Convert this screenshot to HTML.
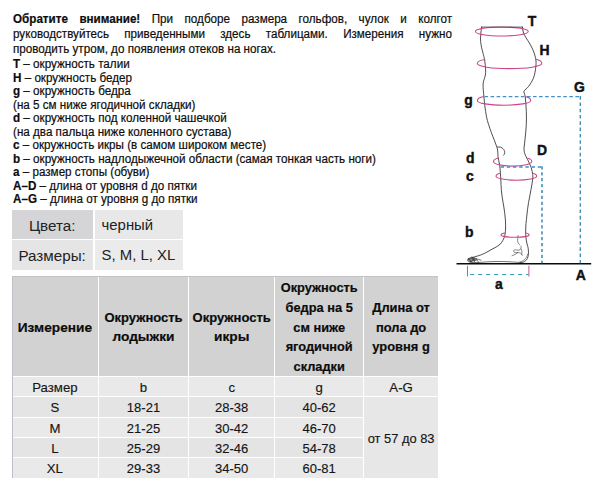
<!DOCTYPE html>
<html><head><meta charset="utf-8">
<style>
html,body{margin:0;padding:0;background:#fff;}
body{width:606px;height:489px;position:relative;overflow:hidden;font-family:"Liberation Sans",sans-serif;color:#111;}
.p{position:absolute;left:13px;top:11.7px;width:452.1px;font-size:12px;line-height:15.2px;text-align:justify;transform:scaleX(0.971);transform-origin:0 0;}
.p,.l{-webkit-text-stroke:0.2px #111;color:#0c0c0c}
.j{text-align:justify;text-align-last:justify;}
.l{position:absolute;left:13px;top:58.1px;font-size:12px;line-height:13.52px;white-space:nowrap;transform:scaleX(0.971);transform-origin:0 0;}
.kv span{position:relative;top:0.9px}
.kv{position:absolute;font-size:15.2px;color:#222;white-space:nowrap;line-height:29px;height:29px;}
.c{position:absolute;display:flex;align-items:center;justify-content:center;text-align:center;white-space:nowrap;color:#141414;}
.c span{position:relative;display:block}
.c.h{font-weight:bold;font-size:13.2px;line-height:19.56px;color:#0c0c0c;-webkit-text-stroke:0.2px #0c0c0c;}
.c.h i{font-style:normal;font-size:13.7px;}
.c.d{font-size:13.2px;line-height:19px;-webkit-text-stroke:0.15px #1a1a1a;}
svg{position:absolute;left:0;top:0;}
</style></head><body>
<div class="p"><div class="j"><b>Обратите внимание!</b> При подборе размера гольфов, чулок и колгот</div><div class="j">руководствуйтесь приведенными здесь таблицами. Измерения нужно</div><div>проводить утром, до появления отеков на ногах.</div></div>
<div class="l"><b>T</b> – окружность талии<br><b>H</b> – окружность бедер<br><b>g</b> – окружность бедра<br>(на 5 см ниже ягодичной складки)<br><b>d</b> – окружность под коленной чашечкой<br>(на два пальца ниже коленного сустава)<br><b>c</b> – окружность икры (в самом широком месте)<br><b>b</b> – окружность надлодыжечной области (самая тонкая часть ноги)<br><b>a</b> – размер стопы (обуви)<br><b>A–D</b> – длина от уровня d до пятки<br><b>A–G</b> – длина от уровня g до пятки</div>
<div class="kv" style="left:12px;top:210.2px;width:81.3px;background:#d5d5d8;text-align:center"><span style="left:-0.5px">Цвета:</span></div>
<div class="kv" style="left:94.9px;top:210.2px;width:81.1px;padding-left:6.7px;font-size:14.9px;background:#e8e8e8"><span>черный</span></div>
<div class="kv" style="left:12px;top:240.2px;width:81.3px;background:#e5e5e5;text-align:center;height:29.4px"><span style="left:-0.5px">Размеры:</span></div>
<div class="kv" style="left:94.9px;top:240.2px;width:81.1px;padding-left:6.7px;font-size:14.9px;background:#ebebeb;height:29.4px"><span>S, M, L, XL</span></div>
<div class="c h" style="left:12.0px;top:276.1px;width:85.8px;height:99.6px;background:#d2d2d2"><span style="top:1.4px;font-size:13.7px;">Измерение</span></div>
<div class="c h" style="left:98.8px;top:276.1px;width:89.4px;height:99.6px;background:#d2d2d2"><span style="top:1.4px;font-size:13.0px;">Окружность<br><i>лодыжки</i></span></div>
<div class="c h" style="left:189.2px;top:276.1px;width:85.0px;height:99.6px;background:#d2d2d2"><span style="top:1.4px;font-size:13.0px;">Окружность<br><i>икры</i></span></div>
<div class="c h" style="left:275.2px;top:276.1px;width:88.0px;height:99.6px;background:#d2d2d2"><span style="top:1.4px;font-size:12.8px;">Окружность<br>бедра на 5<br>см ниже<br>ягодичной<br>складки</span></div>
<div class="c h" style="left:364.2px;top:276.1px;width:73.8px;height:99.6px;background:#d2d2d2"><span style="top:1.4px;font-size:12.9px;">Длина от<br>пола до<br>уровня g</span></div>
<div class="c d" style="left:12.0px;top:376.8px;width:85.8px;height:19.2px;background:#e9e9e9"><span style="top:0.7px;font-size:13.2px;">Размер</span></div>
<div class="c d" style="left:98.8px;top:376.8px;width:89.4px;height:19.2px;background:#e9e9e9"><span style="top:0.7px;font-size:13.2px;">b</span></div>
<div class="c d" style="left:189.2px;top:376.8px;width:85.0px;height:19.2px;background:#e9e9e9"><span style="top:0.7px;font-size:13.2px;">c</span></div>
<div class="c d" style="left:275.2px;top:376.8px;width:88.0px;height:19.2px;background:#e9e9e9"><span style="top:0.7px;font-size:13.2px;">g</span></div>
<div class="c d" style="left:364.2px;top:376.8px;width:73.8px;height:19.2px;background:#e9e9e9"><span style="top:0.7px;font-size:13.2px;">A-G</span></div>
<div class="c d" style="left:12.0px;top:397.0px;width:85.8px;height:20.0px;background:#e4e4e4"><span style="top:0.3px;font-size:13.2px;">S</span></div>
<div class="c d" style="left:98.8px;top:397.0px;width:89.4px;height:20.0px;background:#e4e4e4"><span style="top:0.3px;font-size:13.0px;">18-21</span></div>
<div class="c d" style="left:189.2px;top:397.0px;width:85.0px;height:20.0px;background:#e4e4e4"><span style="top:0.3px;font-size:13.0px;">28-38</span></div>
<div class="c d" style="left:275.2px;top:397.0px;width:88.0px;height:20.0px;background:#e4e4e4"><span style="top:0.3px;font-size:13.0px;">40-62</span></div>
<div class="c d" style="left:12.0px;top:418.0px;width:85.8px;height:18.9px;background:#e9e9e9"><span style="top:0.9px;font-size:13.2px;">M</span></div>
<div class="c d" style="left:98.8px;top:418.0px;width:89.4px;height:18.9px;background:#e9e9e9"><span style="top:0.9px;font-size:13.0px;">21-25</span></div>
<div class="c d" style="left:189.2px;top:418.0px;width:85.0px;height:18.9px;background:#e9e9e9"><span style="top:0.9px;font-size:13.0px;">30-42</span></div>
<div class="c d" style="left:275.2px;top:418.0px;width:88.0px;height:18.9px;background:#e9e9e9"><span style="top:0.9px;font-size:13.0px;">46-70</span></div>
<div class="c d" style="left:12.0px;top:437.9px;width:85.8px;height:18.9px;background:#e4e4e4"><span style="top:0.9px;font-size:13.2px;">L</span></div>
<div class="c d" style="left:98.8px;top:437.9px;width:89.4px;height:18.9px;background:#e4e4e4"><span style="top:0.9px;font-size:13.0px;">25-29</span></div>
<div class="c d" style="left:189.2px;top:437.9px;width:85.0px;height:18.9px;background:#e4e4e4"><span style="top:0.9px;font-size:13.0px;">32-46</span></div>
<div class="c d" style="left:275.2px;top:437.9px;width:88.0px;height:18.9px;background:#e4e4e4"><span style="top:0.9px;font-size:13.0px;">54-78</span></div>
<div class="c d" style="left:12.0px;top:457.8px;width:85.8px;height:20.1px;background:#e9e9e9"><span style="top:0.8px;font-size:13.2px;">XL</span></div>
<div class="c d" style="left:98.8px;top:457.8px;width:89.4px;height:20.1px;background:#e9e9e9"><span style="top:0.8px;font-size:13.0px;">29-33</span></div>
<div class="c d" style="left:189.2px;top:457.8px;width:85.0px;height:20.1px;background:#e9e9e9"><span style="top:0.8px;font-size:13.0px;">34-50</span></div>
<div class="c d" style="left:275.2px;top:457.8px;width:88.0px;height:20.1px;background:#e9e9e9"><span style="top:0.8px;font-size:13.0px;">60-81</span></div>
<div class="c d" style="left:364.2px;top:397.0px;width:73.8px;height:80.9px;background:#e7e7e7"><span style="top:1.1px;font-size:12.9px;">от 57 до 83</span></div>
<div style="position:absolute;left:12px;top:276.1px;width:0.7px;height:201.8px;background:#c0c0c8"></div><div style="position:absolute;left:12px;top:276.1px;width:426px;height:0.6px;background:#c2c2c8"></div>
<svg width="606" height="489" viewBox="0 0 606 489" font-family="'Liberation Sans',sans-serif" font-weight="bold" font-size="15.5px" fill="#111" stroke="#111" stroke-width="0" >
<g fill="none" stroke="#3a3a3a" stroke-width="0.9" stroke-linecap="round" stroke-linejoin="round">
<!-- top -->
<!-- left/front outline -->
<path d="M481.5 26.9 C481 32 480.3 37 480.6 41.3 C481.5 50 484 55 484.8 61 C485.5 67 486 72 485.4 75 C484.5 79 483.2 81 483.1 84 C483 89 483.5 92 483.9 96.4 C484.5 104 485.3 110 486.4 116.2 C487.5 122 489.5 127.5 491.4 132.7 C493 137 495.5 143 497.1 147.8 C498 151 497.8 153.5 498 156.5 C498.3 159.5 499.2 162 499.6 164.8 C500 167.5 500.2 170 500.4 173 C500.8 178 501 184 501.3 189.5 C501.8 195.5 502.8 201 503.7 206 C504.5 210.5 505 215 505.4 219.9 C505.8 224 505.6 228 505.4 231.5 C505.3 233 505.2 234 504.8 235.3 C504.4 237 503.8 238.8 502.9 240.4 C502.2 241.7 501.4 242.9 500.4 244 C498.2 246 495.6 247.4 493 248.7 C490.2 250.2 487.5 251.8 484.75 253.25 C482.6 254.3 480.4 255.1 478.2 255.8 C476.2 256.5 473.8 257.1 471.8 257.6 C470.4 257.9 469.2 258.2 468.3 258.8"/>
<!-- back outline -->
<path d="M522.4 26.9 C522.6 29 522.8 31 523.5 33 C524.8 36.5 527.3 39.5 529.3 42.9 C531.8 47 533.9 51.5 535.1 56.1 C536 59.5 536.3 62.5 535.9 66 C535.5 70.5 534.8 74.5 533.4 78.3 C532.2 81.5 530.3 84 528.5 86.5 C527 88.5 524.8 89.8 524 91.1 C523.5 92 524.5 93.5 525.2 96.4 C525.7 101 526.1 106 526.3 111.3 C526.5 116 526.5 120 526.3 124.5 C526.1 129.5 525.5 134.5 525 139.3 C524.8 142.5 524.2 145.5 524 148.3 C523.9 151.5 524.8 154 526 156.5 C527 158.7 528.4 160.8 529.3 163.1 C530.6 165.8 531.7 168.6 532.2 171.4 C532.6 173.6 533 175.7 532.9 178 C532.4 182 531.7 185.7 531 189.5 C530.3 194 529.3 198.3 528.5 202.7 C527.8 207 527.2 212 526.8 216 C526.5 218.5 526.3 221 526 223.2 C525.7 227 525.6 231 525.7 234.8 C525.8 237.7 526.3 240.4 526.8 243 C527.1 244.6 527.5 245.5 527.8 246.5 C528.2 248 528.4 249.5 528.4 251 C528.5 252.5 528.5 253.5 528.4 254.5 C528.2 256 527.9 257.4 527.3 258.6 C526.7 259.8 525.7 260.9 524.5 261.6 C523.4 262.2 522.1 262.5 520.8 262.6"/>
<!-- sole -->
<path d="M520.8 262.5 C517 262.3 513 262 510 261.8 C505 261.5 500 261.4 495 261.5 C491.5 261.6 488 261.8 485 262 C482.5 262.2 480.5 262.4 478 262.5 C475.5 262.6 472.5 262.6 470 262.4" stroke-width="0.7"/>
<!-- toes -->
<path d="M468.3 258.7 C467.6 259.2 467.3 260 467.7 260.8 C468 261.5 468.5 261.8 469 262 M468.3 258.7 L473.5 257.6 L475.5 259.6 L470.5 261.4 M469.2 259.3 L472 262 M471.6 257 C474 258 477 259 481 260.2 M476 258.4 L478.5 262.3" stroke-width="0.7"/>
<path d="M468 259.5 L474 258.2 M468.6 260.6 L475 259 M469.5 261.6 L476.5 260 M472.5 257.6 L474.5 261.8" stroke-width="0.8" stroke="#333"/>
<!-- knee cap -->
<path d="M497.6 147 C499.7 146.8 501.6 147.3 502.9 148.6 C504 149.6 504.7 150.9 504.7 152.3 C504.7 153.5 504.3 154.4 503.6 155.2"/>
<!-- ankle details -->
<path d="M518 235.5 C517.8 238 517.4 240 517.8 242 C518.1 243.3 519 244 519.6 244.6 M521 246 C521.5 248.5 520.5 250 519 250.2 C517.5 250.3 516 249.5 514.5 250 C513.4 250.4 513.2 251.3 514 252 C515.3 253 517.5 252.4 519.5 252.8 C521 253.1 521.8 254.2 522.4 255.3 M512 255.8 C514 255.2 516.2 254 517.8 252.6 M521.2 249 C522.2 251 522.3 253 521.5 254.6" stroke-width="0.6"/>
<!-- heel pad -->
<path d="M527.9 254 C527.2 256.3 525.8 258.6 523.8 260.2 C522.6 261.1 521 261.8 519.6 262.1" stroke-width="0.6"/>
</g>
<!-- ground -->
<path d="M456.5 263.7 L591.2 263.7" stroke="#0a0a0a" stroke-width="1.5" fill="none"/>
<!-- ellipses -->
<g fill="none" stroke="#cb4488" stroke-width="1.05">
<ellipse cx="501.85" cy="31.5" rx="26.4" ry="4.5"/>
<path d="M485.2 59.6 C480.5 60.2 477.3 61.7 477.3 63.6 C477.3 66.4 491.7 68.6 509.5 68.6 C527.3 68.6 541.8 66.4 541.8 63.6 C541.8 61.6 539.5 60 535.8 59.3"/>
<path d="M484 96.6 C480 97.4 477.3 98.8 477.3 100.7 C477.3 103.2 489.3 105.2 504 105.2 C518.7 105.2 530.7 103.2 530.7 100.7 C530.7 98.9 528.6 97.4 525.2 96.6"/>
<path d="M498.4 158 C495.3 158.8 493.5 160 493.5 161.5 C493.5 164.1 502 166.1 512.6 166.1 C523.2 166.1 531.8 164.1 531.8 161.5 C531.8 160 530 158.8 527.4 158.3"/>
<path d="M500.5 173 C497.7 173.7 496 174.9 496 176.3 C496 178.4 505.1 180.2 516.4 180.2 C527.6 180.2 536.7 178.4 536.7 176.3 C536.7 174.8 535 173.7 532.2 173"/>
<path d="M505.4 233.1 C502.6 233.4 501 234.1 501 235 C501 236.3 507.2 237.3 515 237.3 C522.8 237.3 529.1 236.3 529.1 235 C529.1 234.1 527.6 233.4 525.7 233.1"/>
<path d="M467.5 265.8 L467.5 276.5 M528.9 265.8 L528.9 276.5" stroke="#cc5c96"/>
</g>
<path d="M481.3 27.1 L522.6 27.1" fill="none" stroke="#4a4a4a" stroke-width="0.9"/>
<!-- dashed -->
<g fill="none" stroke="#3f8bbd" stroke-width="1.3">
<path d="M484.5 96.7 L580.3 96.7" stroke-dasharray="3.6 2.46" stroke="#4590c8"/>
<path d="M580.3 96.1 L580.3 263.3" stroke-dasharray="3.6 2.7" stroke-width="1.4" stroke="#4590b4"/>
<path d="M500.6 167 L542 167" stroke-dasharray="3.4 2.8" stroke-width="1.5" stroke="#3f8cc8"/>
<path d="M542 166.3 L542 263.3" stroke-dasharray="3.2 2.7" stroke-width="1.6" stroke="#4590b4"/>
<path d="M470.1 274.5 L528.4 274.5" stroke-dasharray="4.1 3.9" stroke="#3d9ab8" stroke-width="1.2"/>
</g>
<text stroke-width="0.45" transform="translate(527.8 26.0) scale(0.9 1)">T</text>
<text stroke-width="0.45" transform="translate(539.6 55.2) scale(0.9 1)">H</text>
<text stroke-width="0.45" transform="translate(574.1 92.1) scale(0.9 1)">G</text>
<text stroke-width="0.45" transform="translate(464.3 104.5) scale(0.9 1)">g</text>
<text stroke-width="0.45" transform="translate(537.1 154.8) scale(0.9 1)">D</text>
<text stroke-width="0.45" transform="translate(465.9 163.4) scale(0.9 1)">d</text>
<text stroke-width="0.45" transform="translate(466.1 180.6) scale(0.9 1)">c</text>
<text stroke-width="0.45" transform="translate(465.1 236.5) scale(0.9 1)">b</text>
<text stroke-width="0.45" transform="translate(495.1 288.6) scale(0.9 1)">a</text>
<text stroke-width="0.45" transform="translate(575.7 279.5) scale(0.9 1)">A</text>
</svg>

</body></html>
